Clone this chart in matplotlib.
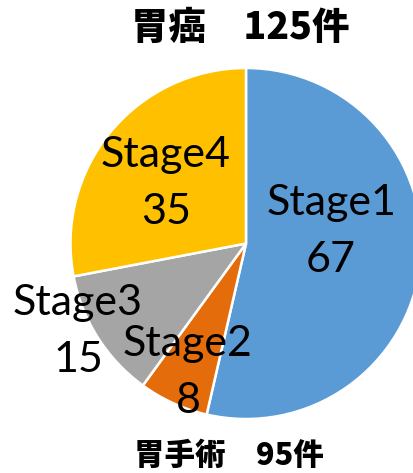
import matplotlib
matplotlib.use("Agg")
import matplotlib.pyplot as plt

# data
stages = ['Stage1', 'Stage2', 'Stage3', 'Stage4']
counts = [67, 8, 15, 35]
colors = ['#5B9BD5', '#E46C0A', '#A5A5A5', '#FFC000']
title = '胃癌　125件'
footer = '胃手術　95件'

W, H = 413, 473
fig = plt.figure(figsize=(W / 100, H / 100), dpi=100)
ax = fig.add_axes([0, 0, 1, 1])

# pie placed in pixel coordinates (y measured from top)
cx, cy, r = 246, 243.5, 175.5
ax.pie(counts, colors=colors, startangle=90, counterclock=False,
       center=(cx, H - cy), radius=r,
       wedgeprops=dict(edgecolor='white', linewidth=1.8))
ax.set_xlim(0, W)
ax.set_ylim(0, H)
ax.axis('off')

# label positions (center x, baseline of first line) in pixels
label_pos = [(331, 215), (188, 356), (78, 315), (166, 167)]
for name, n, (x, y) in zip(stages, counts, label_pos):
    ax.text(x, H - y, name, ha='center', va='baseline', fontsize=31,
            family=['Lato', 'DejaVu Sans'], color='black')
    ax.text(x, H - y - 57, str(n), ha='center', va='baseline', fontsize=31,
            family=['Lato', 'DejaVu Sans'], color='black')

ax.text(240, H - 27.5, title, ha='center', va='center', fontsize=27,
        fontweight='black', family=['Noto Sans CJK JP', 'DejaVu Sans'])
ax.text(229, H - 455, footer, ha='center', va='center', fontsize=22,
        fontweight='black', family=['Noto Sans CJK JP', 'DejaVu Sans'])

fig.savefig('out.png', dpi=100)
